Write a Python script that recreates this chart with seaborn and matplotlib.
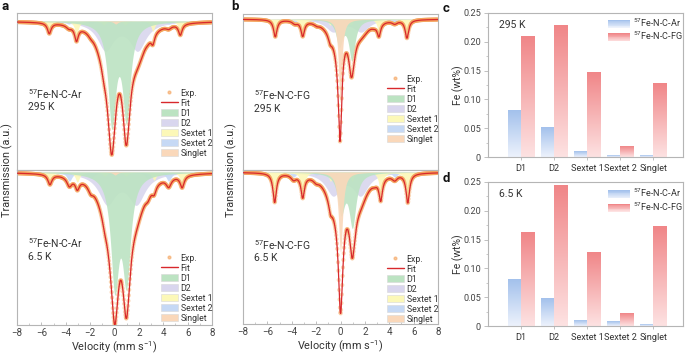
import numpy as np
import pandas as pd
import seaborn as sns
import matplotlib
matplotlib.use("Agg")
import matplotlib.pyplot as plt
from matplotlib.patches import Patch, Rectangle
from matplotlib.lines import Line2D
from matplotlib.colors import LinearSegmentedColormap, to_rgb
from matplotlib.legend_handler import HandlerBase
from matplotlib.ticker import MultipleLocator, FuncFormatter

# ---------------- data ----------------
categories = ["D1", "D2", "Sextet 1", "Sextet 2", "Singlet"]
samples = ["57Fe-N-C-Ar", "57Fe-N-C-FG"]
fe_295K_ar = [0.081, 0.052, 0.010, 0.003, 0.002]
fe_295K_fg = [0.210, 0.228, 0.146, 0.019, 0.127]
fe_65K_ar = [0.081, 0.047, 0.009, 0.008, 0.002]
fe_65K_fg = [0.163, 0.244, 0.128, 0.021, 0.173]

# Mossbauer sub-spectra: (line positions mm/s, line depths a.u., HWHM mm/s)
ar_295K = {
    "D1": ([-0.22, 0.98], [100, 94], 0.38),
    "D2": ([-0.74, 1.90], [28, 28], 0.80),
    "Sextet 1": ([-5.35, -3.12, -0.88, 0.88, 3.15, 5.40], [10.5, 14, 4, 4, 10, 11], 0.18),
    "Sextet 2": ([-3.75, -1.95, -0.35, 1.10, 2.75, 4.45], [3, 2, 1, 1, 2, 3], 0.25),
    "Singlet": ([0.10], [3], 0.20),
}
ar_65K = {
    "D1": ([0.02, 0.98], [108, 102], 0.40),
    "D2": ([-0.60, 1.80], [30, 30], 0.85),
    "Sextet 1": ([-5.30, -3.05, -0.80, 0.95, 3.25, 5.55], [10, 10, 4, 4, 8, 12], 0.20),
    "Sextet 2": ([-3.70, -1.95, -0.35, 1.10, 2.75, 4.45], [9, 6, 2, 2, 6, 9], 0.25),
    "Singlet": ([0.05], [3], 0.20),
}
fg_295K = {
    "D1": ([-0.10, 0.93], [26, 40], 0.30),
    "D2": ([-0.60, 1.70], [12, 12], 0.75),
    "Sextet 1": ([-5.35, -3.10, -0.85, 0.85, 3.15, 5.45], [17, 15, 6, 6, 13, 18], 0.17),
    "Sextet 2": ([-3.75, -1.95, -0.35, 1.10, 2.75, 4.45], [3, 2, 1, 1, 2, 3], 0.25),
    "Singlet": ([-0.03], [84], 0.16),
}
fg_65K = {
    "D1": ([0.05, 0.98], [38, 52], 0.34),
    "D2": ([-0.60, 1.65], [22, 22], 0.75),
    "Sextet 1": ([-5.40, -3.10, -0.82, 0.95, 3.30, 5.52], [29, 22, 9, 9, 22, 29], 0.17),
    "Sextet 2": ([-3.85, -2.00, -0.35, 1.10, 2.80, 4.45], [5, 3, 1.5, 1.5, 3, 5], 0.25),
    "Singlet": ([0.0], [80], 0.20),
}
velocity = np.linspace(-8, 8, 512)  # spectrometer channels

# ---------------- style ----------------
sns.set_theme(style="white")
plt.rcParams['font.family'] = ['Roboto', 'DejaVu Sans']
plt.rcParams['mathtext.fontset'] = 'custom'
plt.rcParams['mathtext.rm'] = 'Roboto'
plt.rcParams['mathtext.it'] = 'Roboto'
plt.rcParams['mathtext.bf'] = 'Roboto:bold'

SPINE = '#b5b5b5'
TXT = '#333333'
comp_colors = {
    "D1": '#bce3c2', "D2": '#d9d6ee', "Sextet 1": '#fcf8b8',
    "Sextet 2": '#c6d9f5', "Singlet": '#fad8ba',
}
draw_order = ["D2", "Sextet 2", "Sextet 1", "D1", "Singlet"]
legend_order = ["D1", "D2", "Sextet 1", "Sextet 2", "Singlet"]
EXP_C = '#f5a45e'
FIT_C = '#d8282c'

W, H = 685, 355
fig = plt.figure(figsize=(W / 100, H / 100), dpi=100)


def add_ax(x0, y0, x1, y1):
    return fig.add_axes([x0 / W, 1 - y1 / H, (x1 - x0) / W, (y1 - y0) / H])


def lorentz(v, pos, depth, hwhm):
    out = np.zeros_like(v)
    for p, d in zip(pos, depth):
        out += d / (1 + ((v - p) / hwhm) ** 2)
    return out


def style_spines(ax):
    for s in ax.spines.values():
        s.set_color(SPINE)
        s.set_linewidth(0.8)


def draw_spectrum(ax, params, ylim, name, temp, txt_y, leg_top, bottom):
    comps = {k: lorentz(velocity, *params[k]) for k in params}
    total = sum(comps.values())
    for k in draw_order:
        ax.fill_between(velocity, 0, -comps[k], color=comp_colors[k], alpha=0.9, lw=0, zorder=1)
    sns.scatterplot(x=velocity, y=-total, ax=ax, s=9, color=EXP_C, alpha=0.45,
                    edgecolor='none', zorder=2, legend=False)
    sns.lineplot(x=velocity, y=-total, ax=ax, color=FIT_C, lw=0.9, zorder=3, legend=False)
    ax.set_xlim(-8, 8)
    ax.set_ylim(*ylim)
    ax.set_yticks([])
    ax.set_ylabel('')
    style_spines(ax)
    ax.text(0.056, txt_y, name + "\n" + temp, transform=ax.transAxes, fontsize=7.5,
            color=TXT, va='top', ha='left', linespacing=1.2)
    handles = [Line2D([], [], ls='none', marker='o', ms=2, color=EXP_C, alpha=0.6),
               Line2D([], [], color=FIT_C, lw=1.0)]
    handles += [Patch(facecolor=comp_colors[k], edgecolor='#d8d8d8', lw=0.4) for k in legend_order]
    labels = ["Exp.", "Fit"] + legend_order
    ax.legend(handles, labels, loc='upper left', bbox_to_anchor=(0.738, leg_top), frameon=False,
              fontsize=6.3, handlelength=1.9, handleheight=0.9, labelspacing=0.12,
              handletextpad=0.35, borderpad=0, borderaxespad=0, labelcolor=TXT)
    if bottom:
        ax.xaxis.set_major_locator(MultipleLocator(2))
        ax.xaxis.set_minor_locator(MultipleLocator(1))
        ax.tick_params(axis='x', which='major', direction='in', length=2.5, width=0.6,
                       color=SPINE, labelsize=7, labelcolor='#444444', pad=2, bottom=True)
        ax.tick_params(axis='x', which='minor', direction='in', length=1.5, width=0.5,
                       color=SPINE, bottom=True)
        ax.set_xlabel(r"Velocity (mm s$^{-1}$)", fontsize=7.8, color=TXT, labelpad=1)
    else:
        ax.set_xticks([])
        ax.set_xlabel('')


ax_a1 = add_ax(17, 13, 212, 170)
ax_a2 = add_ax(17, 170, 212, 325)
ax_b1 = add_ax(243, 14, 438, 170)
ax_b2 = add_ax(243, 170, 438, 324)

draw_spectrum(ax_a1, ar_295K, (-149, 8), r"$^{57}$Fe-N-C-Ar", "295 K", 0.53, 0.519, False)
draw_spectrum(ax_a2, ar_65K, (-153, 2), r"$^{57}$Fe-N-C-Ar", "6.5 K", 0.57, 0.461, True)
draw_spectrum(ax_b1, fg_295K, (-151, 5), r"$^{57}$Fe-N-C-FG", "295 K", 0.525, 0.612, False)
draw_spectrum(ax_b2, fg_65K, (-152, 2), r"$^{57}$Fe-N-C-FG", "6.5 K", 0.56, 0.451, True)

for x in (7, 231):
    fig.text(x / W, 1 - 170 / H, "Transmission (a.u.)", rotation=90, va='center', ha='center',
             fontsize=7.8, color=TXT)

# ---------------- bar charts ----------------
bar_top = {"57Fe-N-C-Ar": '#a3c1ec', "57Fe-N-C-FG": '#f08688'}
bar_bot = {"57Fe-N-C-Ar": '#edf2fc', "57Fe-N-C-FG": '#fde2e2'}


def mix(c1, c2, f):
    a, b = np.array(to_rgb(c1)), np.array(to_rgb(c2))
    return tuple(a + (b - a) * f)


class GradHandler(HandlerBase):
    def __init__(self, top, bot):
        super().__init__()
        self.top, self.bot = top, bot

    def create_artists(self, legend, orig_handle, xdescent, ydescent, width, height, fontsize, trans):
        n = 10
        arts = []
        for i in range(n):
            col = mix(self.bot, self.top, i / (n - 1))
            arts.append(Rectangle((-xdescent, -ydescent + i * height / n), width, height / n * 1.05,
                                  facecolor=col, edgecolor='none', transform=trans))
        return arts


def draw_bars(ax, ar_vals, fg_vals, temp, leg_top):
    df = pd.DataFrame({
        "cat": categories * 2,
        "val": list(ar_vals) + list(fg_vals),
        "sample": [samples[0]] * len(categories) + [samples[1]] * len(categories),
    })
    pal = {s: bar_top[s] for s in samples}
    sns.barplot(data=df, x="cat", y="val", hue="sample", hue_order=samples, palette=pal,
                width=0.8, saturation=1, ax=ax, legend=False, errorbar=None)
    grad = np.linspace(0, 1, 128).reshape(-1, 1)
    for p in list(ax.patches):
        fc = p.get_facecolor()[:3]
        s = samples[0] if np.allclose(fc, to_rgb(bar_top[samples[0]]), atol=0.02) else samples[1]
        cmap = LinearSegmentedColormap.from_list("g", [bar_bot[s], bar_top[s]])
        x0, w, h = p.get_x(), p.get_width(), p.get_height()
        ax.imshow(grad, cmap=cmap, extent=[x0, x0 + w, 0, h], origin='lower', aspect='auto',
                  zorder=2, interpolation='bilinear')
        p.set_alpha(0)
    ax.set_xlim(-1, 4.9)
    ax.set_ylim(0, 0.25)
    ax.yaxis.set_major_locator(MultipleLocator(0.05))
    ax.yaxis.set_minor_locator(MultipleLocator(0.025))
    ax.yaxis.set_major_formatter(FuncFormatter(lambda v, _: "0" if abs(v) < 1e-9 else f"{v:.2f}"))
    ax.tick_params(axis='y', which='major', direction='out', length=3, width=0.6, color=SPINE,
                   labelsize=6.6, labelcolor='#444444', pad=2, left=True)
    ax.tick_params(axis='y', which='minor', direction='out', length=1.5, width=0.5, color=SPINE, left=True)
    ax.tick_params(axis='x', direction='out', length=2, width=0.6, color=SPINE,
                   labelsize=6.6, labelcolor=TXT, pad=3, bottom=True)
    ax.set_xlabel('')
    ax.set_ylabel('')
    style_spines(ax)
    ax.text(0.056, 0.92, temp, transform=ax.transAxes, fontsize=7.5, color=TXT, va='center')
    h_ar = Patch(facecolor=bar_top[samples[0]])
    h_fg = Patch(facecolor=bar_top[samples[1]])
    ax.legend([h_ar, h_fg], [r"$^{57}$Fe-N-C-Ar", r"$^{57}$Fe-N-C-FG"],
              handler_map={h_ar: GradHandler(bar_top[samples[0]], bar_bot[samples[0]]),
                           h_fg: GradHandler(bar_top[samples[1]], bar_bot[samples[1]])},
              loc='upper left', bbox_to_anchor=(0.615, leg_top), frameon=False, fontsize=6.6,
              handlelength=2.4, handleheight=1.0, labelspacing=0.12, handletextpad=0.3,
              borderpad=0, borderaxespad=0, labelcolor=TXT)


ax_c = add_ax(488, 13, 683, 157)
ax_d = add_ax(488, 182, 683, 326)
draw_bars(ax_c, fe_295K_ar, fe_295K_fg, "295 K", 0.975)
draw_bars(ax_d, fe_65K_ar, fe_65K_fg, "6.5 K", 0.965)

fig.text(458 / W, 1 - 85 / H, "Fe (wt%)", rotation=90, va='center', ha='center', fontsize=7.5, color=TXT)
fig.text(458 / W, 1 - 254 / H, "Fe (wt%)", rotation=90, va='center', ha='center', fontsize=7.5, color=TXT)

# panel letters
for lab, x, y in (("a", 2, 7), ("b", 231, 7), ("c", 443, 8), ("d", 443, 178)):
    fig.text(x / W, 1 - y / H, lab, fontsize=9.5, fontweight='bold', color='#111111', va='center', ha='left')

fig.savefig("out.png", dpi=100)
